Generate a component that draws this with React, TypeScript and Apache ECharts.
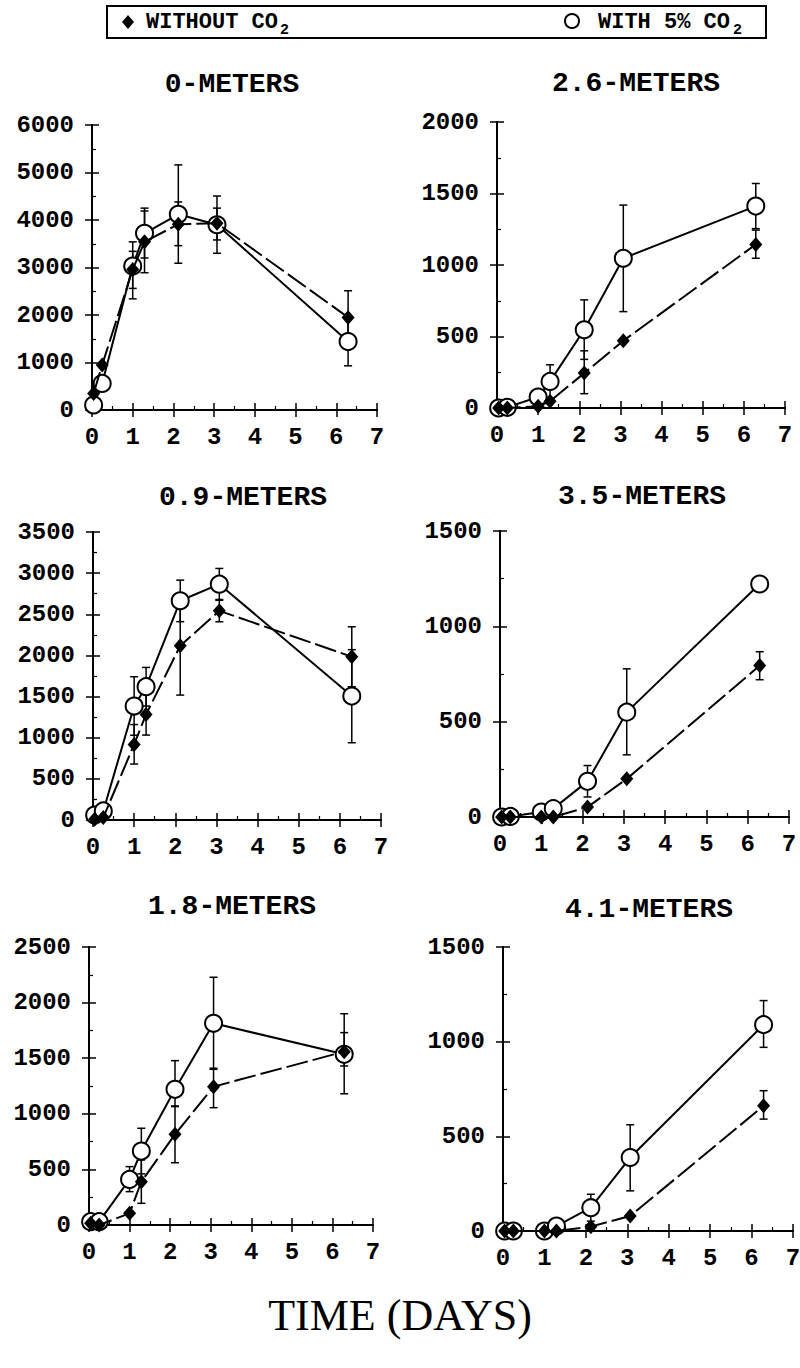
import React, { useEffect, useRef } from "react";
import * as echarts from "echarts";

// ---------- data ----------
const days = [0.04, 0.25, 1.0, 1.29, 2.12, 3.07, 6.29];
const xTicks = [0, 1, 2, 3, 4, 5, 6, 7];

const panelTitles = ["0-METERS", "2.6-METERS", "0.9-METERS", "3.5-METERS", "1.8-METERS", "4.1-METERS"];
const yMax = [6000, 2000, 3500, 1500, 2500, 1500];
const yStep = [1000, 500, 500, 500, 500, 500];

// without CO2 (filled diamonds)
const without0 = [350, 950, 2960, 3540, 3910, 3930, 1950];
const without26 = [0, 0, 12, 47, 244, 470, 1144];
const without09 = [10, 30, 919, 1283, 2117, 2542, 1984];
const without35 = [0, 0, 0, 0, 52, 200, 794];
const without18 = [15, 0, 105, 390, 815, 1244, 1559];
const without41 = [0, 0, 0, 0, 23, 79, 661];

// with 5% CO2 (open circles)
const with0 = [105, 560, 3030, 3720, 4120, 3900, 1440];
const with26 = [0, 5, 77, 186, 547, 1047, 1412];
const with09 = [60, 110, 1385, 1620, 2664, 2866, 1506];
const with35 = [0, 3, 26, 44, 187, 550, 1222];
const with18 = [30, 30, 410, 665, 1220, 1814, 1535];
const with41 = [0, 0, 0, 26, 123, 388, 1090];

// error bars [low, high] per day (null = none)
type Err = [number, number] | null;
const withoutErr0: Err[] = [null, null, [2340, 3340], [2890, 4190], [3460, 4380], [3580, 4250], [1390, 2510]];
const withErr0: Err[] = [null, null, [2560, 3540], [3200, 4250], [3090, 5160], [3300, 4505], [930, 1950]];
const withoutErr26: Err[] = [null, null, null, null, [100, 400], null, [1047, 1244]];
const withErr26: Err[] = [null, null, null, [70, 302], [340, 756], [674, 1419], [1254, 1570]];
const withoutErr09: Err[] = [null, null, [680, 1160], [1032, 1530], [1518, 2717], [2409, 2680], [1620, 2348]];
const withErr09: Err[] = [null, null, [1030, 1741], [1385, 1854], [2410, 2915], [2670, 3057], [939, 2070]];
const withoutErr35: Err[] = [null, null, null, null, null, null, [720, 867]];
const withErr35: Err[] = [null, null, null, null, [105, 270], [326, 777], null];
const withoutErr18: Err[] = [null, null, null, [195, 585], [560, 1070], [1055, 1410], [1430, 1730]];
const withErr18: Err[] = [null, null, [300, 525], [460, 870], [1065, 1478], [1400, 2228], [1180, 1900]];
const withoutErr41: Err[] = [null, null, null, null, null, null, [591, 741]];
const withErr41: Err[] = [null, null, null, null, [52, 194], [212, 561], [970, 1217]];

const legendWithout = "WITHOUT CO";
const legendWith = "WITH 5% CO";
const axisTitle = "TIME (DAYS)";

// ---------- layout ----------
const layout = [
  { left: 92, top: 125, width: 285, height: 285, tx: 232, ty: 84 },
  { left: 497, top: 122, width: 288, height: 286, tx: 636, ty: 83 },
  { left: 93, top: 532, width: 288, height: 288, tx: 243, ty: 497 },
  { left: 500, top: 531, width: 289, height: 286, tx: 642, ty: 496 },
  { left: 89, top: 947, width: 284, height: 278, tx: 232, ty: 906 },
  { left: 503, top: 947, width: 290, height: 284, tx: 649, ty: 909 },
];

const FONT = "'Liberation Mono', 'DejaVu Sans Mono', monospace";
const SERIF = "'Liberation Serif', 'DejaVu Serif', serif";

const panels = [
  { w: without0, c: with0, we: withoutErr0, ce: withErr0 },
  { w: without26, c: with26, we: withoutErr26, ce: withErr26 },
  { w: without09, c: with09, we: withoutErr09, ce: withErr09 },
  { w: without35, c: with35, we: withoutErr35, ce: withErr35 },
  { w: without18, c: with18, we: withoutErr18, ce: withErr18 },
  { w: without41, c: with41, we: withoutErr41, ce: withErr41 },
];

function errData(errs: Err[]) {
  const out: number[][] = [];
  errs.forEach((e, i) => {
    if (e) out.push([days[i], e[0], e[1]]);
  });
  return out;
}

function renderErr(params: any, api: any) {
  const x = api.value(0);
  const lo = api.coord([x, api.value(1)]);
  const hi = api.coord([x, api.value(2)]);
  const hw = 4;
  const st = { stroke: "#000", lineWidth: 1.5 };
  return {
    type: "group",
    children: [
      { type: "line", shape: { x1: lo[0], y1: lo[1], x2: hi[0], y2: hi[1] }, style: st },
      { type: "line", shape: { x1: hi[0] - hw, y1: hi[1], x2: hi[0] + hw, y2: hi[1] }, style: st },
      { type: "line", shape: { x1: lo[0] - hw, y1: lo[1], x2: lo[0] + hw, y2: lo[1] }, style: st },
    ],
  };
}

const plain = (v: number) => String(v);

function buildOption() {
  const grid: any[] = [];
  const xAxis: any[] = [];
  const yAxis: any[] = [];
  const series: any[] = [];
  const graphic: any[] = [];
  const axLine = { show: true, lineStyle: { color: "#000", width: 2 } };
  const tick = { show: true, inside: true, length: 7, lineStyle: { color: "#000", width: 1.5 } };
  const minor = { show: true, splitNumber: 2, length: 4, lineStyle: { color: "#000", width: 1.2 } };
  const lbl = { fontFamily: FONT, fontWeight: "bold", fontSize: 24, color: "#000", formatter: plain };

  layout.forEach((L, i) => {
    grid.push({ left: L.left, top: L.top, width: L.width, height: L.height, containLabel: false, outerBoundsMode: "none", show: false });
    xAxis.push({
      type: "value", gridIndex: i, min: xTicks[0], max: xTicks[xTicks.length - 1], interval: 1, position: "bottom",
      axisLine: axLine, axisTick: tick, minorTick: minor, splitLine: { show: false },
      axisLabel: { ...lbl, margin: 15, hideOverlap: false },
    });
    xAxis.push({
      type: "value", gridIndex: i, min: xTicks[0], max: xTicks[xTicks.length - 1], interval: 1, position: "top",
      axisLine: axLine, axisTick: tick, splitLine: { show: false }, axisLabel: { show: false },
    });
    yAxis.push({
      type: "value", gridIndex: i, min: 0, max: yMax[i], interval: yStep[i], position: "left",
      axisLine: axLine, axisTick: tick, minorTick: minor, splitLine: { show: false },
      axisLabel: { ...lbl, margin: 18, hideOverlap: false },
    });
    yAxis.push({
      type: "value", gridIndex: i, min: 0, max: yMax[i], interval: yStep[i], position: "right",
      axisLine: axLine, axisTick: tick, splitLine: { show: false }, axisLabel: { show: false },
    });
    const P = panels[i];
    series.push({
      type: "custom", xAxisIndex: 2 * i, yAxisIndex: 2 * i, z: 1,
      data: errData(P.ce), renderItem: renderErr, encode: { x: 0, y: [1, 2] }, clip: false,
    });
    series.push({
      type: "custom", xAxisIndex: 2 * i, yAxisIndex: 2 * i, z: 1,
      data: errData(P.we), renderItem: renderErr, encode: { x: 0, y: [1, 2] }, clip: false,
    });
    series.push({
      type: "line", xAxisIndex: 2 * i, yAxisIndex: 2 * i, z: 2, clip: false,
      data: days.map((d, k) => [d, P.c[k]]),
      symbol: "circle", symbolSize: 17,
      itemStyle: { color: "#fff", borderColor: "#000", borderWidth: 2 },
      lineStyle: { color: "#000", width: 2 },
    });
    series.push({
      type: "line", xAxisIndex: 2 * i, yAxisIndex: 2 * i, z: 3, clip: false,
      data: days.map((d, k) => [d, P.w[k]]),
      symbol: "diamond", symbolSize: [13, 15],
      itemStyle: { color: "#000", borderColor: "#000", borderWidth: 0 },
      lineStyle: { color: "#000", width: 2, type: [22, 5] },
    });
    graphic.push({
      type: "text", x: L.tx, y: L.ty,
      style: { text: panelTitles[i], fontFamily: FONT, fontWeight: "bold", fontSize: 28, fill: "#000", align: "center", verticalAlign: "middle", textAlign: "center", textVerticalAlign: "middle" },
    });
  });

  // legend box
  graphic.push({ type: "rect", shape: { x: 107, y: 6, width: 659, height: 32 }, style: { fill: "none", stroke: "#000", lineWidth: 2 } });
  graphic.push({ type: "polygon", shape: { points: [[128, 15], [134, 22], [128, 29], [122, 22]] }, style: { fill: "#000" } });
  graphic.push({
    type: "text", x: 146, y: 22,
    style: { text: legendWithout, fontFamily: FONT, fontWeight: "bold", fontSize: 22, fill: "#000", align: "left", verticalAlign: "middle", textAlign: "left", textVerticalAlign: "middle" },
  });
  graphic.push({
    type: "text", x: 280, y: 30,
    style: { text: "2", fontFamily: FONT, fontWeight: "bold", fontSize: 15, fill: "#000", align: "left", verticalAlign: "middle", textAlign: "left", textVerticalAlign: "middle" },
  });
  graphic.push({ type: "circle", shape: { cx: 572, cy: 21, r: 7 }, style: { fill: "#fff", stroke: "#000", lineWidth: 2 } });
  graphic.push({
    type: "text", x: 598, y: 22,
    style: { text: legendWith, fontFamily: FONT, fontWeight: "bold", fontSize: 22, fill: "#000", align: "left", verticalAlign: "middle", textAlign: "left", textVerticalAlign: "middle" },
  });
  graphic.push({
    type: "text", x: 733, y: 30,
    style: { text: "2", fontFamily: FONT, fontWeight: "bold", fontSize: 15, fill: "#000", align: "left", verticalAlign: "middle", textAlign: "left", textVerticalAlign: "middle" },
  });
  graphic.push({
    type: "text", x: 400, y: 1315,
    style: { text: axisTitle, fontFamily: SERIF, fontSize: 44, fill: "#000", align: "center", verticalAlign: "middle", textAlign: "center", textVerticalAlign: "middle" },
  });

  return { animation: false, backgroundColor: "#fff", grid, xAxis, yAxis, series, graphic };
}

export default function App() {
  const ref = useRef<HTMLDivElement>(null);
  useEffect(() => {
    if (!ref.current) return;
    const chart = echarts.init(ref.current, undefined, { renderer: "svg" });
    chart.setOption(buildOption() as any);
    return () => chart.dispose();
  }, []);
  return <div ref={ref} style={{ position: "fixed", left: 0, top: 0, width: 800, height: 1368, background: "#fff" }} />;
}
